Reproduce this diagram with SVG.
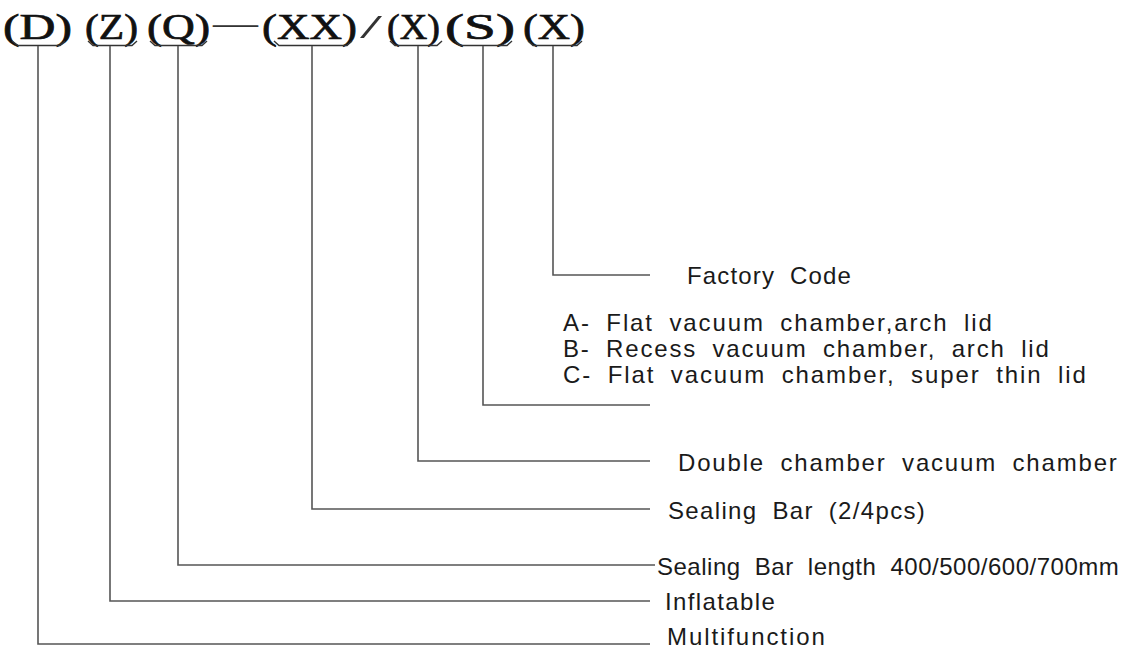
<svg xmlns="http://www.w3.org/2000/svg" width="1131" height="657" viewBox="0 0 1131 657">
<style>
.code{font-family:"Liberation Serif","Times New Roman",serif;font-size:36px;fill:#111;stroke:#111;stroke-width:0.7;}
.sep{font-family:"Liberation Serif","Times New Roman",serif;font-size:34px;fill:#333;}
.lbl{font-family:"Liberation Sans",Arial,sans-serif;font-size:24px;fill:#1a1a1a;letter-spacing:1.2px;word-spacing:7px;}
.ln{fill:none;stroke:#555;stroke-width:1.6;}
.br{fill:none;stroke:#333;stroke-width:1.4;}
</style>
<rect width="1131" height="657" fill="#fff"/>
<g id="code">
<g id="c-D"><text class="code" x="3" y="39" textLength="69" lengthAdjust="spacingAndGlyphs">(D)</text><path class="br" d="M12,41 L18,45.5 L60,45.5 L65,41"/></g>
<g id="c-Z"><text class="code" x="85" y="39" textLength="53" lengthAdjust="spacingAndGlyphs">(Z)</text><path class="br" d="M88,41 L93,45.5 L132,45.5 L137,41"/></g>
<g id="c-Q"><text class="code" x="147" y="39" textLength="63" lengthAdjust="spacingAndGlyphs">(Q)</text><path class="br" d="M150,41 L155,45.5 L202,45.5 L207,41"/></g>
<text class="sep" x="213" y="34" textLength="45" lengthAdjust="spacingAndGlyphs">—</text>
<g id="c-XX"><text class="code" x="262" y="39" textLength="95" lengthAdjust="spacingAndGlyphs">(XX)</text><path class="br" d="M274,41 L279,45.5 L347,45.5 L352,41"/></g>
<text class="sep" x="360" y="38" textLength="22" lengthAdjust="spacingAndGlyphs">/</text>
<g id="c-X1"><text class="code" x="387" y="39" textLength="53" lengthAdjust="spacingAndGlyphs">(X)</text><path class="br" d="M390,41 L395,45.5 L437,45.5 L442,41"/></g>
<g id="c-S"><text class="code" x="445" y="39" textLength="70" lengthAdjust="spacingAndGlyphs">(S)</text><path class="br" d="M455,41 L460,45.5 L507,45.5 L512,41"/></g>
<g id="c-X2"><text class="code" x="523" y="39" textLength="62" lengthAdjust="spacingAndGlyphs">(X)</text><path class="br" d="M528,41 L533,45.5 L577,45.5 L582,41"/></g>
</g>
<g id="connectors">
<polyline class="ln" points="553,46 553,275 650,275"/>
<polyline class="ln" points="483,46 483,405 650,405"/>
<polyline class="ln" points="418,46 418,461 650,461"/>
<polyline class="ln" points="312,46 312,509 650,509"/>
<polyline class="ln" points="178,46 178,565 655,565"/>
<polyline class="ln" points="110,46 110,601 650,601"/>
<polyline class="ln" points="38,46 38,644 650,644"/>
</g>
<g id="labels">
<g id="l-factory"><text class="lbl" x="687" y="284" textLength="165" lengthAdjust="spacing">Factory Code</text></g>
<g id="l-shape">
<text class="lbl" x="563" y="331" textLength="430" lengthAdjust="spacing">A- Flat vacuum chamber,arch lid</text>
<text class="lbl" x="563" y="357" textLength="487" lengthAdjust="spacing">B- Recess vacuum chamber, arch lid</text>
<text class="lbl" x="563" y="383" textLength="524" lengthAdjust="spacing">C- Flat vacuum chamber, super thin lid</text>
</g>
<g id="l-double"><text class="lbl" x="678" y="471" textLength="440" lengthAdjust="spacing">Double chamber vacuum chamber</text></g>
<g id="l-bar"><text class="lbl" x="668" y="519" textLength="258" lengthAdjust="spacing">Sealing Bar (2/4pcs)</text></g>
<g id="l-length"><text class="lbl" x="657" y="575" textLength="463" lengthAdjust="spacing">Sealing Bar length 400/500/600/700mm</text></g>
<g id="l-inflatable"><text class="lbl" x="665" y="610" textLength="111" lengthAdjust="spacing">Inflatable</text></g>
<g id="l-multi"><text class="lbl" x="667" y="645" textLength="159" lengthAdjust="spacing">Multifunction</text></g>
</g>
</svg>
